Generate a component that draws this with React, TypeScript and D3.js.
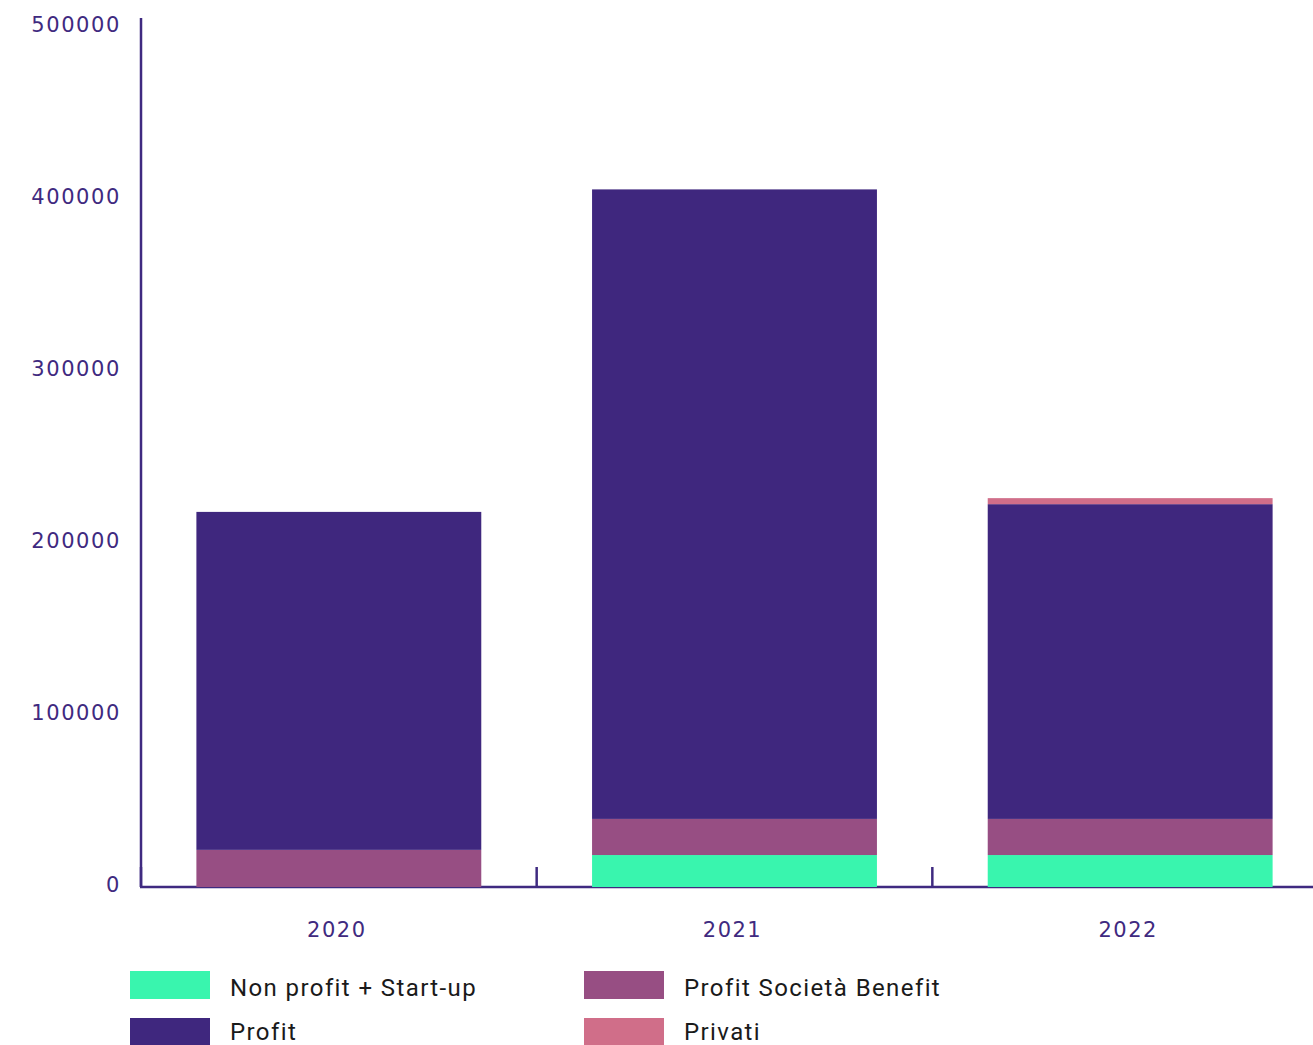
import React from "react";
import * as d3 from "d3";

const years = ["2020", "2021", "2022"];
const nonProfit = [0, 18000, 18000];
const profitSB = [21000, 21000, 21000];
const profit = [196500, 366000, 183000];
const privati = [0, 0, 3500];
const seriesNames = ["Non profit + Start-up", "Profit Società Benefit", "Profit", "Privati"];
const seriesColors = ["#39f5ae", "#974e83", "#3f277e", "#d06e89"];
const yTicks = [0, 100000, 200000, 300000, 400000, 500000];

const W = 1313;
const H = 1045;
const axisColor = "#3f2a80";
const font = "'DejaVu Sans', sans-serif";

export default function App() {
  const rows = years.map((y, i) => ({
    year: y,
    s0: nonProfit[i],
    s1: profitSB[i],
    s2: profit[i],
    s3: privati[i],
  }));
  const stack = d3.stack<any>().keys(["s0", "s1", "s2", "s3"]);
  const stacked = stack(rows);

  const x = d3.scaleBand().domain(years).range([141, 1328]).paddingInner(0.28).paddingOuter(0.14);
  const y = d3.scaleLinear().domain([0, 500000]).range([886, 26]);

  const step = x.step();
  const tickXs = [141, 141 + step, 141 + 2 * step];

  return (
    <svg width={W} height={H} style={{ position: "absolute", left: 0, top: 0, background: "#fff" }}>
      {/* y labels */}
      {yTicks.map((t) => (
        <text key={t} x={121} y={y(t) - 1} dy="0.35em" textAnchor="end" fontFamily={font} fontSize={21} fill={axisColor} letterSpacing={1.6}>
          {t}
        </text>
      ))}
      {/* axes */}
      <line x1={141} x2={141} y1={18} y2={887} stroke={axisColor} strokeWidth={2.5} />
      <line x1={140} x2={W} y1={887} y2={887} stroke={axisColor} strokeWidth={2.5} />
      {tickXs.map((tx, i) => (
        <line key={i} x1={tx} x2={tx} y1={867} y2={887} stroke={axisColor} strokeWidth={2.5} />
      ))}
      {/* bars */}
      {stacked.map((s, si) => (
        <g key={si} fill={seriesColors[si]}>
          {s.map((d, i) =>
            d[1] - d[0] > 0 ? (
              <rect
                key={i}
                x={x(years[i]) as number}
                width={x.bandwidth()}
                y={y(d[1])}
                height={y(d[0]) - y(d[1]) + (d[0] === 0 ? 1 : 0)}
              />
            ) : null
          )}
        </g>
      ))}
      {/* x labels */}
      {years.map((yr) => (
        <text key={yr} x={(x(yr) as number) + x.bandwidth() / 2 - 2} y={930} dy="0.35em" textAnchor="middle" fontFamily={font} fontSize={21} fill={axisColor} letterSpacing={1.5}>
          {yr}
        </text>
      ))}
      {/* legend */}
      {seriesNames.map((n, i) => {
        const col = i === 0 || i === 2 ? 0 : 1;
        const row = i < 2 ? 0 : 1;
        const lx = col === 0 ? 130 : 584;
        const ly = row === 0 ? 971 : 1018;
        return (
          <g key={n}>
            <rect x={lx} y={ly} width={80} height={28} fill={seriesColors[i]} />
            <text x={lx + 100} y={ly + (row === 0 ? 17 : 14)} dy="0.35em" fontFamily="'Roboto', 'Noto Sans', sans-serif" fontSize={24} fill="#1a1a1a" letterSpacing={1.4}>
              {n}
            </text>
          </g>
        );
      })}
    </svg>
  );
}
